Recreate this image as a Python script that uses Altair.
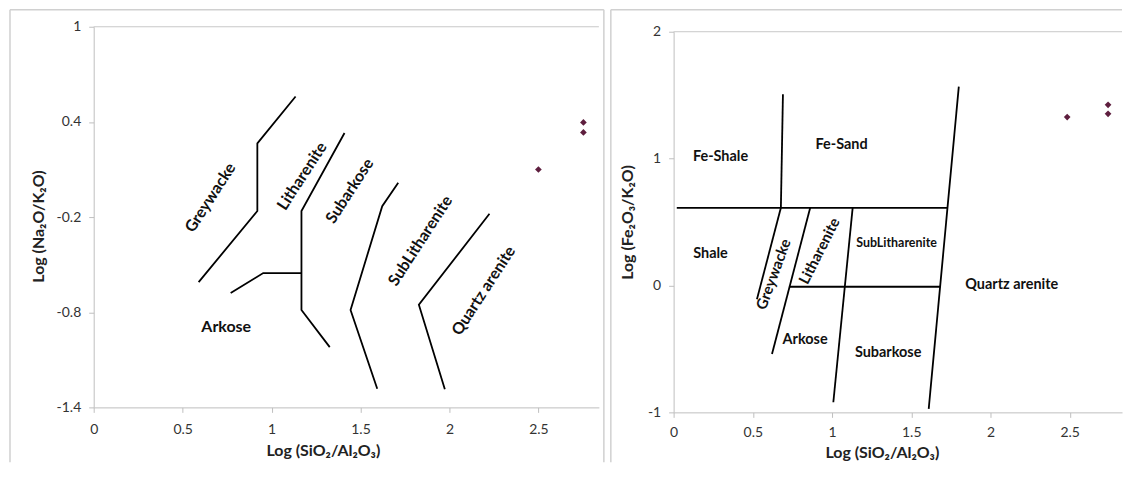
import altair as alt
import pandas as pd

FONT = "Lato"
X_TITLE = "Log (SiO₂/Al₂O₃)"

# ---------------- data: left panel (Log Na2O/K2O vs Log SiO2/Al2O3) ----------------
l_grey_x = [0.59, 0.92, 0.92, 1.135]
l_grey_y = [-0.61, -0.162, 0.265, 0.56]
l_lith_x = [1.41, 1.168, 1.168, 1.327]
l_lith_y = [0.33, -0.162, -0.786, -1.02]
l_ark_x = [0.77, 0.953, 1.168]
l_ark_y = [-0.679, -0.553, -0.553]
l_subark_x = [1.712, 1.622, 1.444, 1.594]
l_subark_y = [0.016, -0.131, -0.786, -1.282]
l_sublith_x = [2.225, 1.828, 1.974]
l_sublith_y = [-0.179, -0.753, -1.286]

l_pts_x = [2.50, 2.753, 2.753]
l_pts_y = [0.10, 0.397, 0.334]

l_rot_names = ["Greywacke", "Litharenite", "Subarkose", "SubLitharenite", "Quartz arenite"]
l_rot_x = [0.657, 1.172, 1.44, 1.837, 2.193]
l_rot_y = [-0.078, 0.058, -0.035, -0.35, -0.665]
l_flat_names = ["Arkose"]
l_flat_x = [0.745]
l_flat_y = [-0.895]

l_x_ticks = [0, 0.5, 1, 1.5, 2, 2.5]
l_y_ticks = [-1.4, -0.8, -0.2, 0.4, 1]

# ---------------- data: right panel (Log Fe2O3/K2O vs Log SiO2/Al2O3) ----------------
r_top_x = [0.02, 1.728]
r_top_y = [0.612, 0.612]
r_fe_x = [0.69, 0.677]
r_fe_y = [1.507, 0.612]
r_grey_x = [0.677, 0.526]
r_grey_y = [0.612, -0.108]
r_lith_x = [0.862, 0.621]
r_lith_y = [0.612, -0.54]
r_sublith_x = [1.13, 1.008]
r_sublith_y = [0.612, -0.92]
r_zero_x = [0.734, 1.683]
r_zero_y = [-0.01, -0.01]
r_qa_x = [1.80, 1.61]
r_qa_y = [1.568, -0.972]

r_pts_x = [2.484, 2.742, 2.742]
r_pts_y = [1.327, 1.424, 1.353]

r_flat_names = ["Fe-Shale", "Fe-Sand", "Shale", "Arkose", "Subarkose", "Quartz arenite"]
r_flat_x = [0.296, 1.06, 0.233, 0.83, 1.354, 2.134]
r_flat_y = [1.01, 1.105, 0.246, -0.43, -0.535, 0.005]
r_small_names = ["SubLitharenite"]
r_small_x = [1.407]
r_small_y = [0.337]
r_grey_lbl = ["Greywacke"]
r_grey_lbl_x = [0.631]
r_grey_lbl_y = [0.089]
r_lith_lbl = ["Litharenite"]
r_lith_lbl_x = [0.92]
r_lith_lbl_y = [0.272]

r_x_ticks = [0, 0.5, 1, 1.5, 2, 2.5]
r_y_ticks = [-1, 0, 1, 2]


def lines_df(d):
    rows = []
    for name, (xs, ys) in d.items():
        for i, (x, y) in enumerate(zip(xs, ys)):
            rows.append({"line": name, "order": i, "x": x, "y": y})
    return pd.DataFrame(rows)


def labels_df(names, xs, ys):
    return pd.DataFrame({"label": names, "x": xs, "y": ys})


def panel(lines, pts_x, pts_y, texts, xdom, ydom, xticks, yticks, ytitle,
          width, height, yrange, frame_rules, x_label_pad, x_title_pad, y_title_pad,
          x_title_x, y_title_y):
    xaxis = alt.Axis(values=xticks, title=X_TITLE, labelExpr="toString(datum.value)",
                     grid=False, domainColor="#BFBFBF", tickColor="#BFBFBF", tickSize=5,
                     labelFont=FONT, labelFontSize=14, labelColor="#333333",
                     labelPadding=x_label_pad,
                     titleFont=FONT, titleFontSize=16, titleFontWeight="bold",
                     titleColor="#222222", titlePadding=x_title_pad, titleX=x_title_x,
                     labelFlush=False)
    yaxis = alt.Axis(values=yticks, title=ytitle, labelExpr="toString(datum.value)",
                     grid=False, domainColor="#BFBFBF", tickColor="#BFBFBF", tickSize=5,
                     labelFont=FONT, labelFontSize=14, labelColor="#333333", labelPadding=8,
                     titleFont=FONT, titleFontSize=16, titleFontWeight="bold",
                     titleColor="#222222", titlePadding=y_title_pad, titleY=y_title_y,
                     labelFlush=False)
    xs = alt.Scale(domain=xdom, nice=False, zero=False)
    ys = alt.Scale(domain=ydom, nice=False, zero=False, range=yrange)
    xenc = alt.X("x:Q", scale=xs, axis=xaxis)
    yenc = alt.Y("y:Q", scale=ys, axis=yaxis)

    layers = []
    layers.append(
        alt.Chart(pd.DataFrame({"y": [ydom[1]]})).mark_rule(color="#C8C8C8", strokeWidth=1)
        .encode(y=yenc)
    )
    layers.append(
        alt.Chart(lines_df(lines)).mark_line(color="black", strokeWidth=1.8)
        .encode(x=xenc, y=yenc, detail="line:N", order="order:Q")
    )
    layers.append(
        alt.Chart(pd.DataFrame({"x": pts_x, "y": pts_y}))
        .mark_point(shape="diamond", filled=True, size=45, color="#5E1E3E", opacity=1)
        .encode(x=xenc, y=yenc)
    )
    for df, angle, size in texts:
        layers.append(
            alt.Chart(df).mark_text(angle=angle, font=FONT, fontSize=size, fontWeight="bold",
                                    color="#111111", align="center", baseline="middle")
            .encode(x=xenc, y=yenc, text="label:N")
        )
    for fr in frame_rules:
        layers.append(
            alt.Chart(pd.DataFrame({"f": [0]})).mark_rule(color="#D0D0D0", strokeWidth=1.5)
            .encode(**fr)
        )
    return alt.layer(*layers).properties(width=width, height=height)


LW, LH = 507, 377
left = panel(
    {"grey": (l_grey_x, l_grey_y), "lith": (l_lith_x, l_lith_y), "ark": (l_ark_x, l_ark_y),
     "subark": (l_subark_x, l_subark_y), "sublith": (l_sublith_x, l_sublith_y)},
    l_pts_x, l_pts_y,
    [(labels_df(l_rot_names, l_rot_x, l_rot_y), 303, 16),
     (labels_df(l_flat_names, l_flat_x, l_flat_y), 0, 16)],
    [0, 2.84], [-1.4, 1], l_x_ticks, l_y_ticks, "Log (Na₂O/K₂O)", LW, LH, [LH, -5],
    [dict(x=alt.value(-84), y=alt.value(-22), y2=alt.value(432)),
     dict(x=alt.value(512), y=alt.value(-22), y2=alt.value(432)),
     dict(y=alt.value(-22), x=alt.value(-84), x2=alt.value(512))],
    10, 6, 10, 230, 195,
)

RW, RH = 450, 382
right = panel(
    {"top": (r_top_x, r_top_y), "fe": (r_fe_x, r_fe_y), "grey": (r_grey_x, r_grey_y),
     "lith": (r_lith_x, r_lith_y), "sublith": (r_sublith_x, r_sublith_y),
     "zero": (r_zero_x, r_zero_y), "qa": (r_qa_x, r_qa_y)},
    r_pts_x, r_pts_y,
    [(labels_df(r_flat_names, r_flat_x, r_flat_y), 0, 14.5),
     (labels_df(r_small_names, r_small_x, r_small_y), 0, 12.5),
     (labels_df(r_grey_lbl, r_grey_lbl_x, r_grey_lbl_y), 290, 15),
     (labels_df(r_lith_lbl, r_lith_lbl_x, r_lith_lbl_y), 297, 15)],
    [0, 2.83], [-1, 2], r_x_ticks, r_y_ticks, "Log (Fe₂O₃/K₂O)", RW, RH, [RH, 0],
    [dict(x=alt.value(-63), y=alt.value(-22), y2=alt.value(432)),
     dict(y=alt.value(-22), x=alt.value(-63), x2=alt.value(RW))],
    8, 5, 12, 209, 191,
)

chart = (
    alt.hconcat(left, right, spacing=5)
    .properties(padding={"left": 1, "top": 0, "right": 0, "bottom": 0}, background="white")
    .configure_view(stroke=None)
)

chart.save("out.html", embed_options={"renderer": "svg", "actions": False})
